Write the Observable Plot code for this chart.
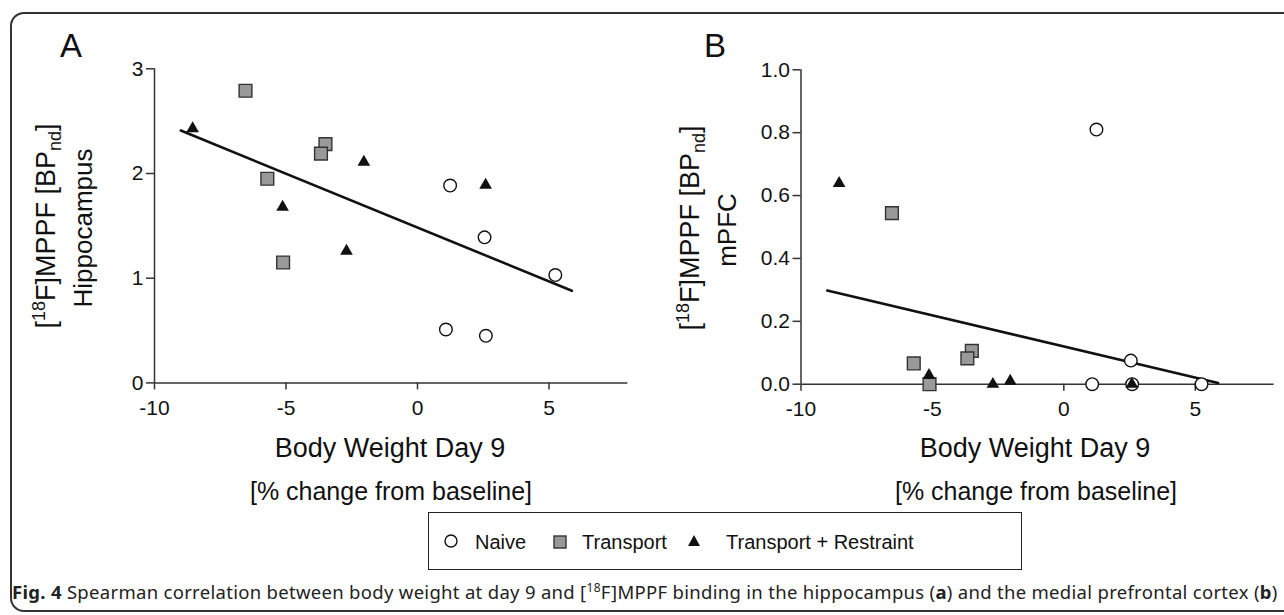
<!DOCTYPE html>
<html>
<head>
<meta charset="utf-8">
<script src="https://cdn.jsdelivr.net/npm/d3@7"></script>
<script src="https://cdn.jsdelivr.net/npm/@observablehq/plot@0.6"></script>
<style>
  html, body { margin: 0; padding: 0; background: #fff; }
  #wrap { position: relative; width: 1284px; height: 615px; overflow: hidden; font-family: "Liberation Sans", Arial, sans-serif; color: #111; }
  #frame { position: absolute; left: 10px; top: 12px; width: 1300px; height: 600px; border: 2px solid #333; border-radius: 14px; box-sizing: border-box; }
  .plot { position: absolute; top: 0; }
  .panel { position: absolute; font-size: 33px; line-height: 1; }
  .ylab { position: absolute; font-size: 27px; line-height: 1; white-space: nowrap; transform: translate(-50%, -50%) rotate(-90deg); }
  .ylab.l2 { font-size: 26px; }
  .ylab sup, .ylab sub { font-size: 18px; line-height: 0; }
  .xlab { position: absolute; font-size: 25px; line-height: 1; white-space: nowrap; transform: translate(-50%, -50%); }
  .xlab.l1 { font-size: 27px; }
  #legend { position: absolute; left: 428px; top: 512px; width: 594px; height: 58px; border: 1.5px solid #222; box-sizing: border-box; font-size: 20px; }
  #legend .it { position: absolute; top: 18px; white-space: nowrap; }
  #legend svg { position: absolute; }
  #caption { position: absolute; left: 12px; top: 582.6px; font-family: "Noto Sans", "Open Sans", sans-serif; font-size: 18.5px; letter-spacing: 0.3px; white-space: nowrap; color: #222; line-height: 1; }
  #caption sup { font-size: 12px; line-height: 0; }
</style>
</head>
<body>
<div id="wrap">
  <div id="frame"></div>
  <div id="plotA" class="plot" style="left:0px"></div>
  <div id="plotB" class="plot" style="left:640px"></div>
  <div class="panel" style="left:60px; top:29px;">A</div>
  <div class="panel" style="left:704px; top:29px;">B</div>
  <div class="ylab" style="left:46px; top:226px;">[<sup>18</sup>F]MPPF [BP<sub>nd</sub>]</div>
  <div class="ylab l2" style="left:83px; top:228px;">Hippocampus</div>
  <div class="ylab" style="left:690px; top:228px;">[<sup>18</sup>F]MPPF [BP<sub>nd</sub>]</div>
  <div class="ylab l2" style="left:727px; top:230px;">mPFC</div>
  <div class="xlab l1" style="left:390px; top:448px;">Body Weight Day 9</div>
  <div class="xlab" style="left:391px; top:491px;">[% change from baseline]</div>
  <div class="xlab l1" style="left:1035px; top:448px;">Body Weight Day 9</div>
  <div class="xlab" style="left:1036px; top:491px;">[% change from baseline]</div>
  <div id="legend">
    <svg style="left:14px; top:20px" width="16" height="16"><circle cx="8" cy="8" r="6" fill="#fff" stroke="#111" stroke-width="1.4"/></svg>
    <div class="it" style="left:46px">Naive</div>
    <svg style="left:123px; top:21px" width="16" height="16"><rect x="2" y="2" width="12" height="12" fill="#999" stroke="#333" stroke-width="1.4"/></svg>
    <div class="it" style="left:153px">Transport</div>
    <svg style="left:257px; top:20px" width="16" height="16"><path d="M8,2 L14,13 L2,13 Z" fill="#111"/></svg>
    <div class="it" style="left:297px">Transport + Restraint</div>
  </div>
  <div id="caption"><b>Fig. 4</b> Spearman correlation between body weight at day 9 and [<sup>18</sup>F]MPPF binding in the hippocampus (<b>a</b>) and the medial prefrontal cortex (<b>b</b>)</div>
</div>
<script>
// Body weight change at day 9 (% from baseline), per group
const naiveX      = [1.24, 1.08, 2.55, 2.60, 5.24];
const transportX  = [-6.54, -3.50, -3.67, -5.71, -5.11];
const restraintX  = [-8.55, -5.13, -2.70, -2.04, 2.59];
// [18F]MPPF BPnd hippocampus (panel A)
const naiveHip     = [1.885, 0.51, 1.39, 0.45, 1.03];
const transportHip = [2.79, 2.28, 2.19, 1.95, 1.15];
const restraintHip = [2.43, 1.68, 1.26, 2.11, 1.89];
// [18F]MPPF BPnd mPFC (panel B)
const naiveMPFC     = [0.81, 0.0, 0.075, 0.0, 0.0];
const transportMPFC = [0.544, 0.106, 0.082, 0.066, 0.0];
const restraintMPFC = [0.639, 0.028, 0.0, 0.01, 0.0];
// Fitted regression lines
const fitX    = [-9.0, 5.87];
const fitHip  = [2.41, 0.88];
const fitMPFC = [0.298, 0.004];
// Tick values
const xTicks = [-10, -5, 0, 5];
const yTicksA = [0, 1, 2, 3];
const yTicksB = [0, 0.2, 0.4, 0.6, 0.8, 1.0];

const font = '"Liberation Sans", Arial, sans-serif';
const zip = (xs, ys) => xs.map((x, i) => ({x, y: ys[i]}));

function panel({yMax, yTicks, yFmt, naive, transport, restraint, fit, mLeft, mRight, mTop, mBottom, width}) {
  return Plot.plot({
    width, height: 520,
    marginLeft: mLeft, marginRight: mRight, marginTop: mTop, marginBottom: mBottom,
    style: {fontFamily: font, color: "#111", background: "transparent", overflow: "visible"},
    x: {domain: [-10, 8]},
    y: {domain: [0, yMax]},
    marks: [
      Plot.ruleX([-10], {y1: 0, y2: yMax, stroke: "#333", strokeWidth: 1.5}),
      Plot.ruleY([0], {x1: -10, x2: 8, stroke: "#333", strokeWidth: 1.5}),
      Plot.axisY({ticks: yTicks, tickFormat: yFmt, tickSize: 8, tickPadding: 3, fontSize: 21, label: null, strokeWidth: 1.5, stroke: "#333"}),
      Plot.axisX({ticks: xTicks, tickFormat: d => String(d), tickSize: 7, tickPadding: 10, fontSize: 21, label: null, strokeWidth: 1.5, stroke: "#333"}),
      Plot.line(zip(fitX, fit), {x: "x", y: "y", stroke: "#111", strokeWidth: 2.6}),
      Plot.dot(zip(naiveX, naive), {x: "x", y: "y", r: 6.3, fill: "#fff", stroke: "#111", strokeWidth: 1.4}),
      Plot.dot(zip(transportX, transport), {x: "x", y: "y", symbol: "square", r: 7.2, fill: "#999", stroke: "#333", strokeWidth: 1.4}),
      Plot.dot(zip(restraintX, restraint), {x: "x", y: "y", symbol: "triangle", r: 4.7, fill: "#111", stroke: "none"})
    ]
  });
}

document.getElementById("plotA").append(panel({
  yMax: 3, yTicks: yTicksA, yFmt: d => String(d),
  naive: naiveHip, transport: transportHip, restraint: restraintHip, fit: fitHip,
  width: 640, mLeft: 154, mRight: 12.6, mTop: 68.3, mBottom: 137.6
}));
document.getElementById("plotB").append(panel({
  yMax: 1, yTicks: yTicksB, yFmt: d => d.toFixed(1),
  naive: naiveMPFC, transport: transportMPFC, restraint: restraintMPFC, fit: fitMPFC,
  width: 644, mLeft: 160.5, mRight: 10.4, mTop: 69.3, mBottom: 136.3
}));
</script>
</body>
</html>
